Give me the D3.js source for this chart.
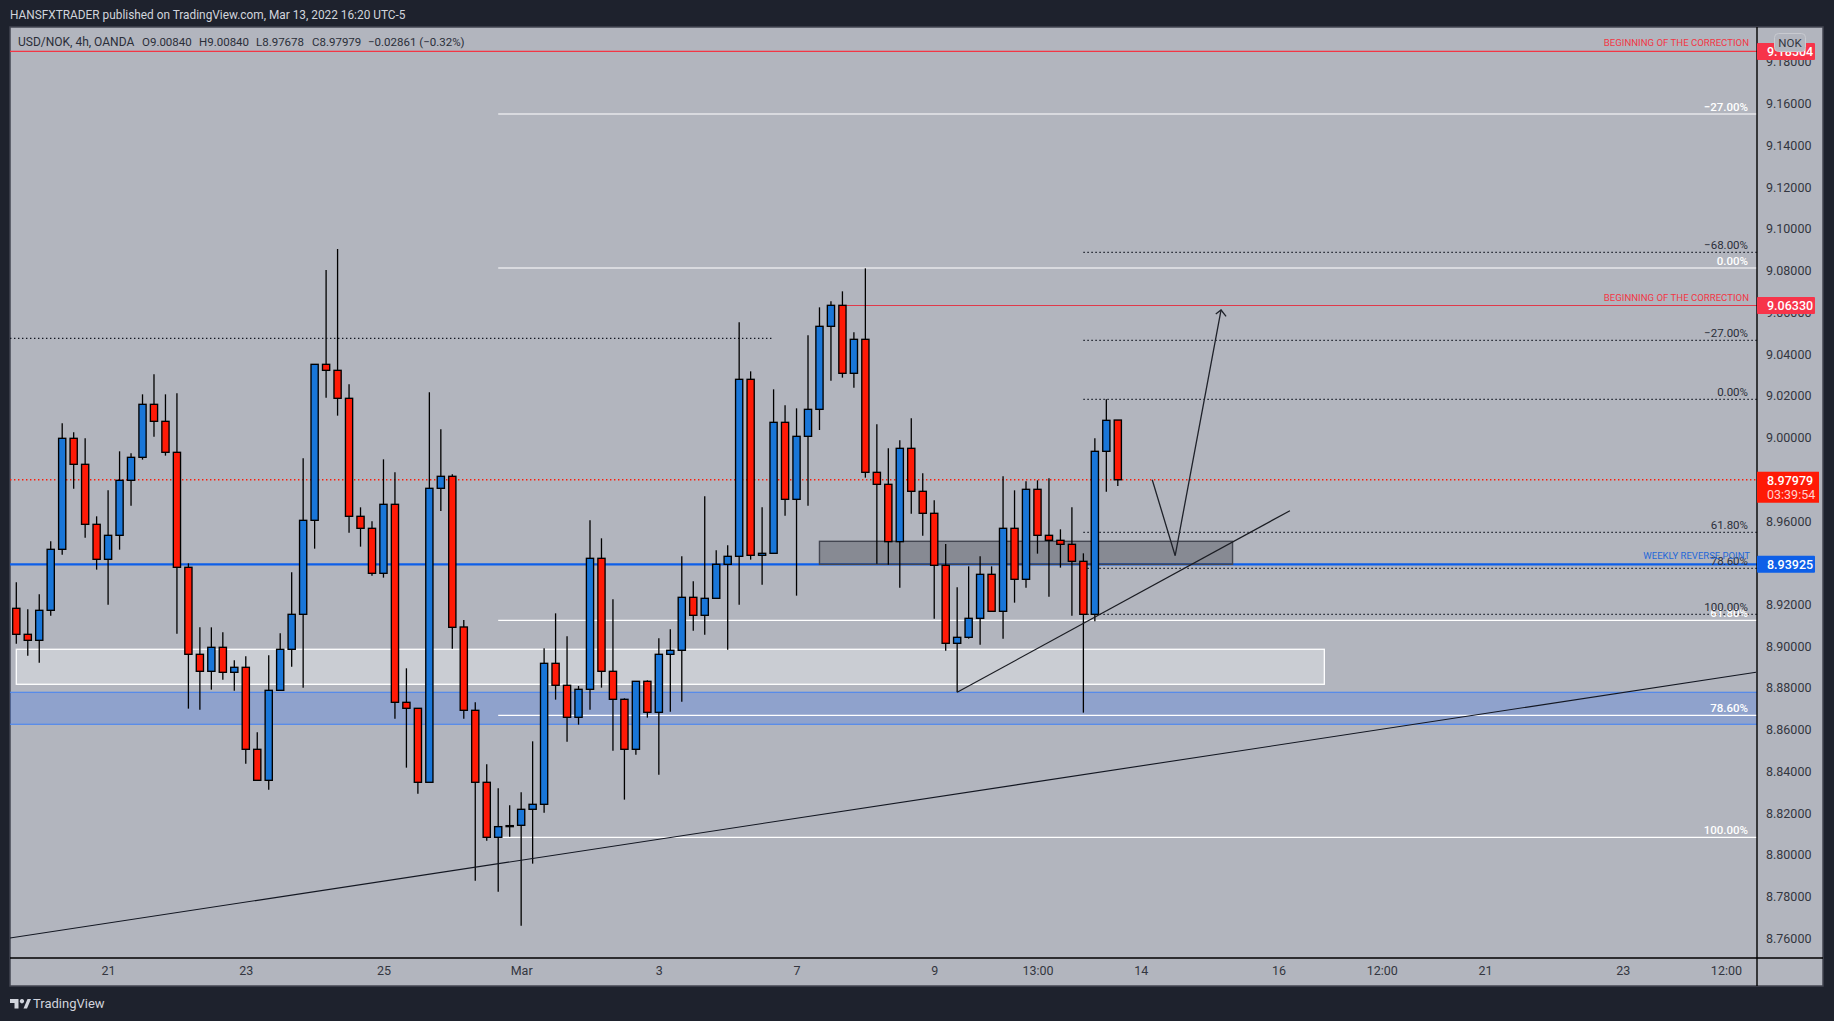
<!DOCTYPE html>
<html><head><meta charset="utf-8">
<script src="https://cdnjs.cloudflare.com/ajax/libs/d3/7.8.5/d3.min.js"></script>
<style>html,body{margin:0;padding:0;background:#1e222d;overflow:hidden}svg{display:block}text{font-family:Roboto,"Noto Sans",sans-serif}</style>
</head><body><svg id="c" width="1834" height="1021"></svg>
<script>
const candleOpen=[8.91817,8.90571,8.90283,8.91721,8.94644,8.99964,8.98718,8.95842,8.94165,8.95315,8.97951,8.99053,9.01593,9.00778,8.99293,8.93782,8.89613,8.88798,8.89948,8.88750,8.88990,8.85060,8.83574,8.87887,8.89852,8.91529,8.96034,9.03510,9.03222,9.01881,8.96226,8.95651,8.93494,8.96801,8.87312,8.87025,8.83479,8.97568,8.98143,8.90922,8.86929,8.83479,8.80843,8.81402,8.81418,8.82185,8.82424,8.89181,8.88127,8.86594,8.87935,8.94213,8.88798,8.87456,8.85060,8.88319,8.86833,8.89613,8.89804,8.92344,8.91482,8.92296,8.93926,8.94309,9.02791,8.94357,8.94453,9.00730,8.97040,9.00059,9.01353,9.05331,9.06337,9.03079,9.04708,8.98334,8.97759,8.95012,8.99484,8.97424,8.96370,8.93877,8.90140,8.90427,8.91338,8.93446,8.91673,8.95651,8.93207,8.97520,8.95315,8.95076,8.94884,8.94069,8.91529,8.99341,9.00840];
const candleHigh=[8.93063,8.91769,8.92488,8.95028,9.00682,9.00251,8.99964,8.96226,8.97472,8.99341,8.99245,9.02072,9.03031,9.02072,9.02120,8.93973,8.90906,8.90906,8.90667,8.89325,8.89517,8.85875,8.89565,8.90619,8.93542,8.99005,9.03510,9.08030,9.09037,9.02551,8.96657,8.95986,8.98957,8.98334,8.88942,8.87025,9.02168,9.00395,8.98238,8.91258,8.87312,8.84341,8.83191,8.82376,8.82999,8.85443,8.89900,8.91577,8.90475,8.88095,8.96034,8.95172,8.92248,8.87504,8.88319,8.88367,8.90379,8.90811,8.94309,8.93111,8.97184,8.94596,8.94836,9.05523,9.03174,8.96657,9.02312,9.01545,9.01401,9.04900,9.06241,9.06529,9.07008,9.05043,9.08110,9.00635,8.99484,8.99868,9.00922,8.98286,8.96992,8.94900,8.92823,8.93830,8.94309,8.93830,8.98143,8.97472,8.97903,8.97951,8.98047,8.95603,8.96657,8.94453,8.99964,9.01833,9.00840];
const candleLow=[8.90124,8.89549,8.89213,8.91465,8.94389,8.97552,8.95203,8.93670,8.91993,8.94628,8.96737,8.98941,9.00044,8.99133,8.90603,8.87009,8.86961,8.87919,8.88398,8.87871,8.84373,8.83574,8.83127,8.87887,8.89021,8.88015,8.94676,9.01912,9.01050,8.95443,8.94772,8.93382,8.93287,8.86530,8.84181,8.82935,8.83479,8.96481,8.89884,8.86530,8.78766,8.80683,8.78239,8.80875,8.76610,8.79581,8.82025,8.87440,8.85427,8.86242,8.86961,8.88015,8.84996,8.82648,8.84804,8.86578,8.83846,8.86865,8.87344,8.90747,8.90555,8.92296,8.89836,8.91993,8.94149,8.92951,8.94453,8.96258,8.92424,8.96737,9.00363,9.02727,9.02871,9.02392,8.98079,8.93958,8.93910,8.92807,8.96354,8.95299,8.91322,8.89788,8.87791,8.90363,8.90076,8.91673,8.90363,8.92088,8.92807,8.94437,8.92376,8.93766,8.91465,8.86817,8.91194,8.97408,8.97678];
const candleClose=[8.90571,8.90283,8.91721,8.94644,8.99964,8.98718,8.95842,8.94165,8.95315,8.97951,8.99053,9.01593,9.00778,8.99293,8.93782,8.89613,8.88798,8.89948,8.88750,8.88990,8.85060,8.83574,8.87887,8.89852,8.91529,8.96034,9.03510,9.03222,9.01881,8.96226,8.95651,8.93494,8.96801,8.87312,8.87025,8.83479,8.97568,8.98143,8.90906,8.86929,8.83479,8.80843,8.81354,8.81354,8.82185,8.82424,8.89181,8.88127,8.86594,8.87935,8.94213,8.88798,8.87456,8.85060,8.88319,8.86833,8.89613,8.89804,8.92344,8.91482,8.92296,8.93926,8.94309,9.02791,8.94357,8.94453,9.00730,8.97040,9.00059,9.01353,9.05331,9.06337,9.03079,9.04708,8.98334,8.97759,8.95012,8.99484,8.97424,8.96370,8.93878,8.90140,8.90427,8.91338,8.93446,8.91673,8.95651,8.93207,8.97520,8.95315,8.95076,8.94884,8.94069,8.91529,8.99341,9.00826,8.97979];

const priceTicks=[9.18,9.16,9.14,9.12,9.10,9.08,9.06,9.04,9.02,9.00,8.98,8.96,8.94,8.92,8.90,8.88,8.86,8.84,8.82,8.80,8.78,8.76];
const timeTickIndex=[8,20,32,44,56,68,80,89,98,110,119,128,140,149];
const timeTickLabels=["21","23","25","Mar","3","7","9","13:00","14","16","12:00","21","23","12:00"];

// drawn levels: [price, label]
const whiteFibLevels=[[9.15506,"\u221227.00%"],[9.08126,"0.00%"],[8.91243,"61.80%"],[8.86691,"78.60%"],[8.80843,"100.00%"]];
const dottedFibLevels=[[9.08879,"\u221268.00%"],[9.04661,"\u221227.00%"],[9.01834,"0.00%"],[8.95460,"61.80%"],[8.93736,"78.60%"],[8.91531,"100.00%"]];
const resistanceTop=9.18504, resistanceLow=9.06330, weeklyPoint=8.93925, lastPrice=8.97979, leftDotted=9.04757;
const whiteZone=[8.89854,8.88176], blueZone=[8.87793,8.86260], grayZone=[8.95028,8.93925];
const longTrend=[[-0.55,8.76018],[151.62,8.88751]];
const shortTrend=[[82,8.87793],[111,8.96496]];
const projection=[[99,8.97979],[101,8.94339],[105,9.06114]];

const W=1834,H=1021,L=10,T=27,R=1823,B=986,AX=1757,AY=958;
const x=d3.scaleLinear().domain([0,100]).range([16.3,1163.7]);
const y=d3.scaleLinear().domain([9.16,8.86]).range([103.7,729.7]);
const svg=d3.select("#c");
const clipId="plot";
svg.append("defs").append("clipPath").attr("id",clipId).append("rect").attr("x",L).attr("y",T).attr("width",AX-L).attr("height",AY-T);
svg.append("rect").attr("x",L).attr("y",T).attr("width",R-L).attr("height",B-T).attr("fill","#b2b5be").attr("stroke","#434651").attr("stroke-width",1.5);
const g=svg.append("g").attr("clip-path",`url(#${clipId})`);
const hline=(p,x0,x1,col,w,dash)=>g.append("line").attr("x1",x0).attr("x2",x1).attr("y1",y(p)).attr("y2",y(p)).attr("stroke",col).attr("stroke-width",w).attr("stroke-dasharray",dash||null);
const zone=(z,x0,x1,fill,stroke,sw)=>g.append("rect").attr("x",x0).attr("width",x1-x0).attr("y",y(z[0])).attr("height",y(z[1])-y(z[0])).attr("fill",fill).attr("stroke",stroke).attr("stroke-width",sw);

// zones and levels under the candles
zone(whiteZone,x(0),x(114),"rgba(255,255,255,.32)","#fff",1.3);
zone(blueZone,L-3,AX+3,"rgba(38,109,246,.25)","#4a86f0",1.1);
hline(weeklyPoint,L,AX,"#0d5fe8",2.2);
zone(grayZone,x(70),x(106),"rgba(19,23,34,.27)","#434651",1.4);
hline(lastPrice,L,AX,"#ff1a06",1.3,"1.4 2.6");
hline(resistanceTop,L,AX,"#f23645",1.2);
hline(resistanceLow,x(72),AX,"#e0394a",1.2);
hline(leftDotted,L,x(66)-1,"#131722",1.2,"1.4 2.6");
whiteFibLevels.forEach(d=>hline(d[0],x(42),AX,"#fff",1.2));
dottedFibLevels.forEach(d=>hline(d[0],x(93),AX,"#131722",1.2,"1.4 2.6"));

// candles
const idx=d3.range(candleOpen.length);
const bw=7.2;
g.selectAll("line.wick").data(idx).join("line").attr("class","wick")
 .attr("x1",i=>x(i)).attr("x2",i=>x(i)).attr("y1",i=>y(candleHigh[i])).attr("y2",i=>y(candleLow[i]))
 .attr("stroke","#000").attr("stroke-width",1.3);
g.selectAll("rect.body").data(idx).join("rect").attr("class","body")
 .attr("x",i=>x(i)-bw/2).attr("width",bw)
 .attr("y",i=>y(Math.max(candleOpen[i],candleClose[i])))
 .attr("height",i=>Math.abs(y(candleOpen[i])-y(candleClose[i])))
 .attr("fill",i=>candleClose[i]>candleOpen[i]?"#1976d8":"#ff1a06")
 .attr("stroke","#000").attr("stroke-width",1.35);

// trend lines
const ln=d3.line().x(d=>x(d[0])).y(d=>y(d[1]));
g.append("path").attr("d",ln(longTrend)).attr("fill","none").attr("stroke","#131722").attr("stroke-width",1.1);
g.append("path").attr("d",ln(shortTrend)).attr("fill","none").attr("stroke","#1a1c22").attr("stroke-width",1.2);
g.append("path").attr("d",ln(projection)).attr("fill","none").attr("stroke","#1f222a").attr("stroke-width",1.3);
const tip=projection[2];
g.append("path").attr("d",`M${x(tip[0])-5.3},${y(tip[1])+4}L${x(tip[0])},${y(tip[1])}L${x(tip[0])+5},${y(tip[1])+6.3}`).attr("fill","none").attr("stroke","#1f222a").attr("stroke-width",1.3);

// level labels
const txt=(s,px,py,col,size,anchor,weight)=>svg.append("text").attr("x",px).attr("y",py).attr("fill",col).attr("font-size",size).attr("text-anchor",anchor||"start").attr("dominant-baseline","central").attr("font-weight",weight||400).text(s);
whiteFibLevels.forEach(d=>txt(d[1],1748,y(d[0])-7.5,"#fff",11.5,"end",500));
dottedFibLevels.forEach(d=>txt(d[1],1748,y(d[0])-7.5,"#2a2e39",11.5,"end"));
txt("BEGINNING OF THE CORRECTION",1749,y(resistanceTop)-8.5,"#f23645",9.6,"end");
txt("BEGINNING OF THE CORRECTION",1749,y(resistanceLow)-7.5,"#f23645",9.6,"end");
txt("WEEKLY REVERSE POINT",1750,y(weeklyPoint)-9,"#2468d8",9.5,"end");

// axes
svg.append("line").attr("x1",AX).attr("x2",AX).attr("y1",T).attr("y2",B).attr("stroke","#000").attr("stroke-width",1.4);
svg.append("line").attr("x1",L).attr("x2",R).attr("y1",AY).attr("y2",AY).attr("stroke","#000").attr("stroke-width",1.4);
const yAxis=svg.append("g").attr("transform",`translate(${AX},0)`).call(d3.axisRight(y).tickValues(priceTicks).tickFormat(d3.format(".5f")).tickSize(0).tickPadding(9));
const xAxis=svg.append("g").attr("transform",`translate(0,${AY})`).call(d3.axisBottom(x).tickValues(timeTickIndex).tickFormat(i=>timeTickLabels[timeTickIndex.indexOf(i)]).tickSize(0).tickPadding(8));
[yAxis,xAxis].forEach(a=>{a.select(".domain").remove();a.selectAll("text").attr("fill","#33363f").attr("font-size",12.5).attr("font-family","Roboto");});

// price tags
const tag=(p,col,label)=>{const c=y(p);svg.append("rect").attr("x",AX).attr("y",c-8.5).attr("width",58).attr("height",17).attr("fill",col).attr("rx",1);txt(label,AX+10,c+.3,"#fff",12.5,"start",500);};
tag(resistanceTop,"#f7344a",d3.format(".5f")(resistanceTop));
tag(resistanceLow,"#f7344a",d3.format(".5f")(resistanceLow));
tag(weeklyPoint,"#0d5fe8",d3.format(".5f")(weeklyPoint));
svg.append("rect").attr("x",AX).attr("y",y(lastPrice)-8).attr("width",62).attr("height",31).attr("fill","#ff1a06");
txt(d3.format(".5f")(lastPrice),AX+10,y(lastPrice)+.5,"#fff",12.5,"start",500);
txt("03:39:54",AX+10,y(lastPrice)+14.5,"#ffd0cc",12.5,"start");
svg.append("rect").attr("x",1774.5).attr("y",33.5).attr("width",31).attr("height",18).attr("rx",4).attr("fill","#b2b5be").attr("stroke","#c8cad0").attr("stroke-width",1);
txt("NOK",1790,42.5,"#33363f",11.5,"middle");

// header, legend, footer
txt("HANSFXTRADER published on TradingView.com, Mar 13, 2022 16:20 UTC-5",10,15,"#d1d4dc",11.85);
txt("USD/NOK, 4h, OANDA",18,41.5,"#2a2e39",12);
const legendParts=[["O9.00840",142],["H9.00840",199],["L8.97678",256],["C8.97979",312],["\u22120.02861 (\u22120.32%)",368]];
legendParts.forEach(d=>txt(d[0],d[1],41.5,"#2a2e39",11.5));
svg.append("path").attr("d","M10,999h8.5v9.5h-4v-5.5h-4.5z M22,999a2.2,2.2 0 1 1 -.1,0z M23.5,1008.5l4,-9.5h3.5l-4,9.5z").attr("fill","#d1d4dc");
txt("TradingView",33,1003,"#d1d4dc",13);
</script></body></html>
